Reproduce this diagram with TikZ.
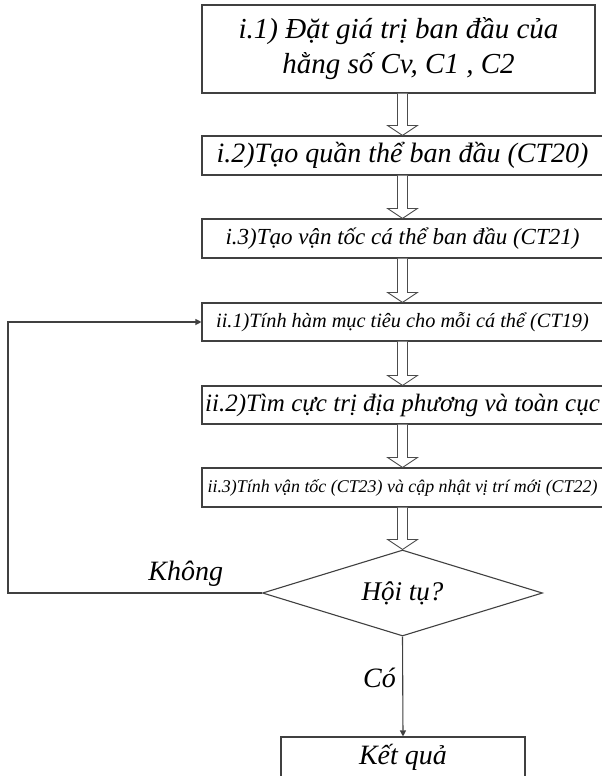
\documentclass[tikz,border=0pt]{standalone}
\usepackage{fontspec}
\setmainfont{Liberation Serif}
\usetikzlibrary{arrows.meta,calc,shapes.geometric}

% wide hollow arrow between two boxes
\newcommand{\hollowarrow}[2]{%
  \draw[fcarrow] ($(#1.south -| #2.north)+(-5,0)$) -- ($(#2.north)+(-5,-10)$)
    -- ++(-10,0) -- (#2.north) -- ++(15,-10) -- ++(-10,0)
    -- ($(#1.south -| #2.north)+(5,0)$);}

\begin{document}
\begin{tikzpicture}
  [
  x=1pt, y=-1pt,
  fcnode/.style={draw=black!75, line width=1.1pt, fill=white, inner sep=0pt, align=center},
  fcdecision/.style={draw=black!75, line width=1.1pt, diamond, aspect=3.2, inner sep=2pt,
    minimum width=280, minimum height=86, font=\fontsize{27}{32}\selectfont\itshape},
  fcarrow/.style={draw=black!70, line width=0.9pt, fill=white},
  fcline/.style={draw=black!75, line width=1.1pt},
  fclabel/.style={font=\fontsize{28}{32}\selectfont\itshape}
  ]
  \fill[white] (0,0) rectangle (602,776);
  \useasboundingbox (0,0) rectangle (602,776);

  \node[fcnode, minimum width=393, minimum height=88, font=\fontsize{29}{35}\selectfont\itshape] (init) at (398.5,49)
    {i.1) Đặt giá trị ban đầu của\\hằng số Cv, C1 , C2};
  \node[fcnode, minimum width=401, minimum height=39, font=\fontsize{28}{32}\selectfont\itshape] (pop) at (402.5,155.5)
    {i.2)Tạo quần thể ban đầu (CT20)};
  \node[fcnode, minimum width=401, minimum height=39, font=\fontsize{23}{27}\selectfont\itshape] (vel) at (402.5,238.5)
    {i.3)Tạo vận tốc cá thể ban đầu (CT21)};
  \node[fcnode, minimum width=401, minimum height=38, font=\fontsize{20.3}{24}\selectfont\itshape] (fit) at (402.5,322)
    {ii.1)Tính hàm mục tiêu cho mỗi cá thể (CT19)};
  \node[fcnode, minimum width=401, minimum height=38, font=\fontsize{25}{29}\selectfont\itshape] (best) at (402.5,405)
    {ii.2)Tìm cực trị địa phương và toàn cục};
  \node[fcnode, minimum width=401, minimum height=39, font=\fontsize{17.9}{22}\selectfont\itshape] (move) at (402.5,487.5)
    {ii.3)Tính vận tốc (CT23) và cập nhật vị trí mới (CT22)};
  \node[fcdecision] (conv) at (402.5,593) {Hội tụ?};
  \node[fcnode, minimum width=244, minimum height=41, font=\fontsize{28}{32}\selectfont\itshape] (res) at (403,757.5)
    {Kết quả};

  \hollowarrow{init}{pop}
  \hollowarrow{pop}{vel}
  \hollowarrow{vel}{fit}
  \hollowarrow{fit}{best}
  \hollowarrow{best}{move}
  \hollowarrow{move}{conv}

  \coordinate (back) at (8,593);
  \draw[fcline, -{Triangle[length=6pt,width=6pt]}] (conv.west) -- node[fclabel, pos=0.3, above=3pt] (no) {Không}
    (back) |- (fit.west);
  \draw[fcline, -{Triangle[length=6pt,width=6pt]}] (conv.south) -- node[fclabel, pos=0.41, left=3pt] (yes) {Có}
    (res.north);
\end{tikzpicture}
\end{document}
